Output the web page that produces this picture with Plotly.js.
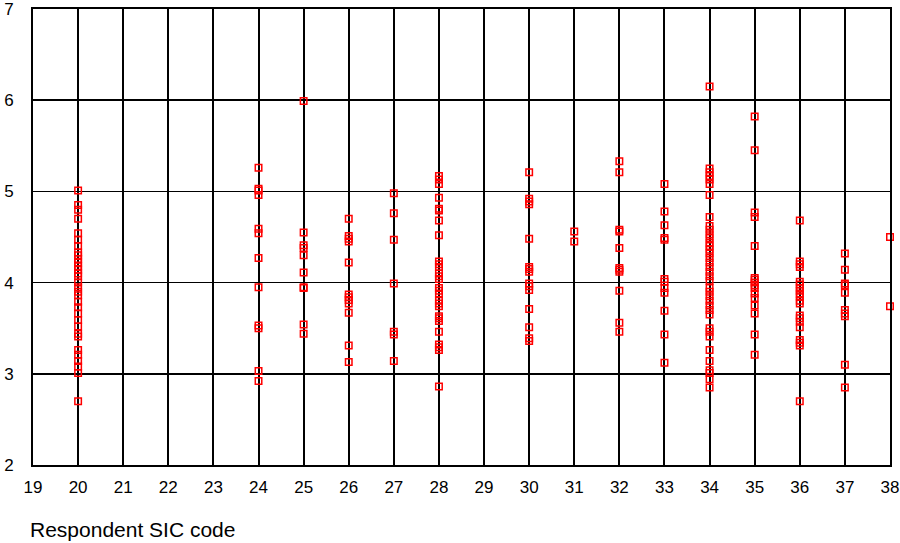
<!DOCTYPE html>
<html>
<head>
<meta charset="utf-8">
<script src="https://cdn.plot.ly/plotly-3.0.1.min.js"></script>
<style>html,body{margin:0;padding:0;background:#fff;}#chart{width:900px;height:543px;}</style>
</head>
<body>
<div id="chart"></div>
<script>
// Values read per SIC code column
const sic20 = [5.01,4.85,4.80,4.70,4.54,4.47,4.40,4.33,4.30,4.26,4.22,4.18,4.14,4.10,4.07,4.00,3.95,3.90,3.86,3.79,3.73,3.66,3.59,3.52,3.44,3.41,3.26,3.21,3.14,3.08,3.01,2.70];
const sic24 = [5.26,5.03,5.01,4.96,4.59,4.54,4.27,3.95,3.53,3.50,3.03,2.92];
const sic25 = [5.99,4.55,4.41,4.38,4.30,4.11,3.95,3.94,3.54,3.44];
const sic26 = [4.70,4.51,4.48,4.45,4.22,3.87,3.84,3.81,3.77,3.67,3.31,3.13];
const sic27 = [4.98,4.76,4.47,3.99,3.46,3.43,3.14];
const sic28 = [5.17,5.13,5.08,4.93,4.81,4.79,4.68,4.52,4.23,4.20,4.17,4.10,4.07,4.04,3.94,3.91,3.88,3.80,3.77,3.74,3.63,3.61,3.58,3.46,3.32,3.29,3.26,2.86];
const sic30 = [5.21,4.92,4.89,4.86,4.48,4.17,4.15,4.12,3.99,3.96,3.92,3.71,3.51,3.39,3.36];
const sic31 = [4.56,4.45];
const sic32 = [5.33,5.21,4.58,4.56,4.38,4.16,4.14,4.12,3.91,3.56,3.46];
const sic33 = [5.08,4.78,4.63,4.49,4.47,4.04,4.01,3.94,3.89,3.69,3.43,3.12];
const sic34 = [6.15,5.25,5.21,5.17,5.13,5.08,4.96,4.72,4.62,4.58,4.53,4.49,4.44,4.40,4.36,4.32,4.27,4.22,4.17,4.12,4.07,4.02,3.94,3.90,3.85,3.80,3.75,3.70,3.65,3.50,3.46,3.41,3.26,3.14,3.04,3.01,2.94,2.85];
const sic35 = [5.82,5.45,4.77,4.72,4.40,4.05,4.03,4.00,3.97,3.94,3.88,3.83,3.75,3.66,3.43,3.21];
const sic36 = [4.68,4.23,4.20,4.17,4.01,3.98,3.94,3.91,3.88,3.85,3.80,3.77,3.64,3.61,3.57,3.51,3.37,3.34,3.31,2.70];
const sic37 = [4.32,4.14,3.99,3.97,3.89,3.70,3.66,3.63,3.10,2.85];
const sic38 = [4.50,3.74];

const groups = [[20,sic20],[24,sic24],[25,sic25],[26,sic26],[27,sic27],[28,sic28],[30,sic30],[31,sic31],[32,sic32],[33,sic33],[34,sic34],[35,sic35],[36,sic36],[37,sic37],[38,sic38]];
const xs = [], ys = [];
groups.forEach(([code, vals]) => vals.forEach(v => { xs.push(code); ys.push(v); }));

const xTickVals = [19,20,21,22,23,24,25,26,27,28,29,30,31,32,33,34,35,36,37,38];
const yTickVals = [2,3,4,5,6,7];
const xTitle = "Respondent SIC code";

const fontFam = "Liberation Sans, Arial, sans-serif";
const trace = {
  x: xs, y: ys, type: 'scatter', mode: 'markers',
  marker: {symbol: 'square-open', size: 6.5, color: '#ff0000', line: {color: '#ff0000', width: 1.5}},
  cliponaxis: false, hoverinfo: 'x+y'
};
const layout = {
  width: 900, height: 543,
  margin: {l: 33, r: 10, t: 9, b: 78},
  paper_bgcolor: '#fff', plot_bgcolor: '#fff',
  showlegend: false,
  font: {family: fontFam, color: '#000'},
  xaxis: {
    range: [19, 38], tickvals: xTickVals, ticktext: xTickVals.map(String),
    showgrid: true, gridcolor: '#000', gridwidth: 2,
    showline: true, mirror: true, linecolor: '#000', linewidth: 2,
    zeroline: false, ticks: '', ticklabelstandoff: 6, ticklabeloverflow: 'allow',
    tickfont: {size: 17, family: fontFam, color: '#000'}
  },
  yaxis: {
    range: [2, 7], tickvals: yTickVals, ticktext: yTickVals.map(String),
    showgrid: true, gridcolor: '#000', gridwidth: 1.5,
    showline: true, mirror: true, linecolor: '#000', linewidth: 2,
    zeroline: false, ticks: '', ticklabelstandoff: 14, ticklabeloverflow: 'allow',
    tickfont: {size: 17, family: fontFam, color: '#000'}
  },
  annotations: [{
    text: xTitle, xref: 'paper', yref: 'paper', x: -0.006, y: -0.142,
    xanchor: 'left', yanchor: 'middle', showarrow: false,
    font: {size: 21, family: fontFam, color: '#000'}
  }]
};
Plotly.newPlot('chart', [trace], layout, {displayModeBar: false, staticPlot: true});
</script>
</body>
</html>
